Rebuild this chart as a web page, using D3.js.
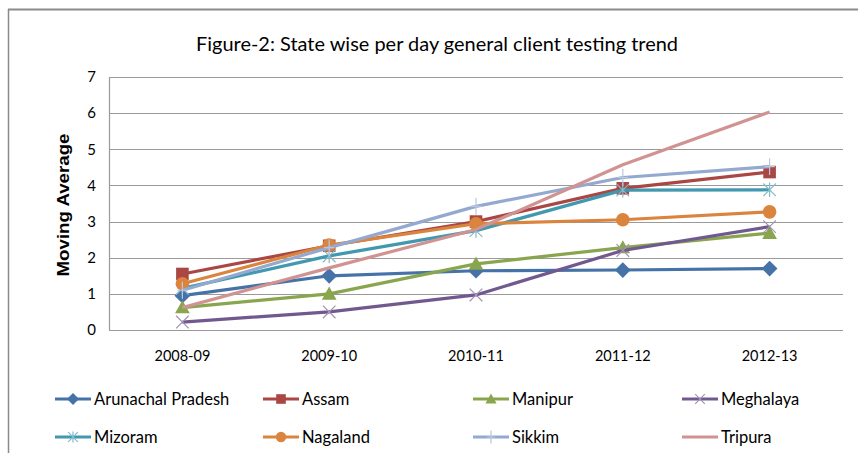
<!DOCTYPE html>
<html><head><meta charset="utf-8">
<script src="https://cdn.jsdelivr.net/npm/d3@7"></script>
<style>body{margin:0;background:#fff;} svg{display:block;}</style>
</head><body>
<svg id="c" width="858" height="453"></svg>
<script>
const categories = ["2008-09","2009-10","2010-11","2011-12","2012-13"];
const yTicks = [0,1,2,3,4,5,6,7];
const seriesNames = ["Arunachal Pradesh","Assam","Manipur","Meghalaya","Mizoram","Nagaland","Sikkim","Tripura"];
const arunachal = [0.95,1.5,1.64,1.66,1.7];
const assam     = [1.55,2.33,3.0,3.92,4.37];
const manipur   = [0.62,1.0,1.83,2.28,2.68];
const meghalaya = [0.22,0.5,0.97,2.2,2.86];
const mizoram   = [1.15,2.05,2.75,3.87,3.88];
const nagaland  = [1.28,2.35,2.94,3.05,3.27];
const sikkim    = [1.1,2.28,3.42,4.22,4.52];
const tripura   = [0.62,1.72,2.78,4.57,6.03];
const seriesValues = [arunachal,assam,manipur,meghalaya,mizoram,nagaland,sikkim,tripura];
const colors = ["#4572A7","#AA4643","#89A54E","#71588F","#4198AF","#DB843D","#93A9CF","#D19392"];
const markers = ["diamond","square","triangle","x","asterisk","circle","plus","none"];

const svg = d3.select("#c");
const font = "Lato, 'Open Sans', sans-serif";

// frame
svg.append("line").attr("x1",8).attr("x2",858).attr("y1",9.5).attr("y2",9.5).attr("stroke","#8a8a8a").attr("stroke-width",2);
svg.append("line").attr("x1",8.5).attr("x2",8.5).attr("y1",9).attr("y2",453).attr("stroke","#8a8a8a").attr("stroke-width",1.5);

// title
svg.append("text").attr("x",437).attr("y",51).attr("text-anchor","middle")
  .attr("font-family",font).attr("font-size",19).attr("fill","#000")
  .attr("textLength",482).attr("lengthAdjust","spacingAndGlyphs")
  .text("Figure-2: State wise per day general client testing trend");

const x = d3.scaleBand().domain(categories).range([109,843]);
const y = d3.scaleLinear().domain([0,7]).range([330,77]);

// gridlines
const g = svg.append("g");
g.selectAll("line.grid").data(yTicks).join("line")
  .attr("x1",109).attr("x2",843).attr("y1",d=>Math.round(y(d))+0.5).attr("y2",d=>Math.round(y(d))+0.5)
  .attr("stroke","#9a9a9a").attr("stroke-width",1.2);
g.append("line").attr("x1",109.5).attr("x2",109.5).attr("y1",y(7)).attr("y2",y(0)).attr("stroke","#9a9a9a").attr("stroke-width",1.2);

// y axis
const yAxis = svg.append("g").attr("transform","translate(109,0)")
  .call(d3.axisLeft(y).tickValues(yTicks).tickSize(0).tickPadding(13).tickFormat(d3.format("d")));
yAxis.select(".domain").remove();
yAxis.selectAll("text").attr("font-family",font).attr("font-size",15).attr("fill","#000");

// x axis
const xAxis = svg.append("g").attr("transform","translate(0,330)")
  .call(d3.axisBottom(x).tickSize(0).tickPadding(21));
xAxis.select(".domain").remove();
xAxis.selectAll("text").attr("font-family",font).attr("font-size",14.5).attr("fill","#000");

// y title
svg.append("text").attr("transform","translate(69,205) rotate(-90)").attr("text-anchor","middle")
  .attr("font-family","'Liberation Sans', Arial, sans-serif").attr("font-weight","bold").attr("font-size",17)
  .attr("textLength",143).attr("lengthAdjust","spacingAndGlyphs")
  .attr("fill","#000").text("Moving Average");

function drawMarker(sel, type, color, cx, cy, s){
  const gg = sel.append("g").attr("transform",`translate(${cx},${cy})`);
  if(type==="diamond") gg.append("path").attr("d",`M0,${-s*0.75}L${s*0.75},0L0,${s*0.75}L${-s*0.75},0Z`).attr("fill",color);
  else if(type==="square") gg.append("rect").attr("x",-s*0.6).attr("y",-s*0.6).attr("width",s*1.2).attr("height",s*1.2).attr("fill",color);
  else if(type==="triangle") gg.append("path").attr("d",`M0,${-s*0.7}L${s*0.7},${s*0.55}L${-s*0.7},${s*0.55}Z`).attr("fill",color);
  else if(type==="circle") gg.append("circle").attr("r",s*0.65).attr("fill",color);
  else if(type==="x") gg.append("path").attr("d",`M${-s*0.6},${-s*0.6}L${s*0.6},${s*0.6}M${s*0.6},${-s*0.6}L${-s*0.6},${s*0.6}`).attr("stroke",color).attr("stroke-width",1.2).attr("fill","none");
  else if(type==="asterisk") gg.append("path").attr("d",`M${-s*0.6},${-s*0.6}L${s*0.6},${s*0.6}M${s*0.6},${-s*0.6}L${-s*0.6},${s*0.6}M0,${-s*0.7}L0,${s*0.7}`).attr("stroke",color).attr("stroke-width",1.2).attr("fill","none");
  else if(type==="plus") gg.append("path").attr("d",`M0,${-s*0.8}L0,${s*0.8}M${-s*0.5},0L${s*0.5},0`).attr("stroke",color).attr("stroke-width",1.2).attr("fill","none");
}
const lighter = c => d3.interpolateRgb(c,"#fff")(0.35);

const line = d3.line().x((d,i)=>x(categories[i])+x.bandwidth()/2).y(d=>y(d));
const plot = svg.append("g");
seriesValues.forEach((vals,si)=>{
  plot.append("path").datum(vals).attr("d",line).attr("fill","none")
    .attr("stroke",colors[si]).attr("stroke-width",3.2).attr("stroke-linejoin","round");
  vals.forEach((v,i)=>{
    const mc = (markers[si]==="x"||markers[si]==="asterisk"||markers[si]==="plus") ? lighter(colors[si]) : colors[si];
    drawMarker(plot, markers[si], mc, x(categories[i])+x.bandwidth()/2, y(v), 10.5);
  });
});

// legend
const legX = [55,263,473,682];
const legY = [399,437];
const leg = svg.append("g");
seriesNames.forEach((name,si)=>{
  const lx = legX[si%4], ly = legY[Math.floor(si/4)];
  leg.append("line").attr("x1",lx).attr("x2",lx+36).attr("y1",ly).attr("y2",ly).attr("stroke",colors[si]).attr("stroke-width",3.2);
  const mc = (markers[si]==="x"||markers[si]==="asterisk"||markers[si]==="plus") ? lighter(colors[si]) : colors[si];
  drawMarker(leg, markers[si], mc, lx+18, ly, 8);
  leg.append("text").attr("x",lx+39).attr("y",ly+6).attr("font-family",font).attr("font-size",16.5).attr("fill","#000").text(name);
});
</script>
</body></html>
